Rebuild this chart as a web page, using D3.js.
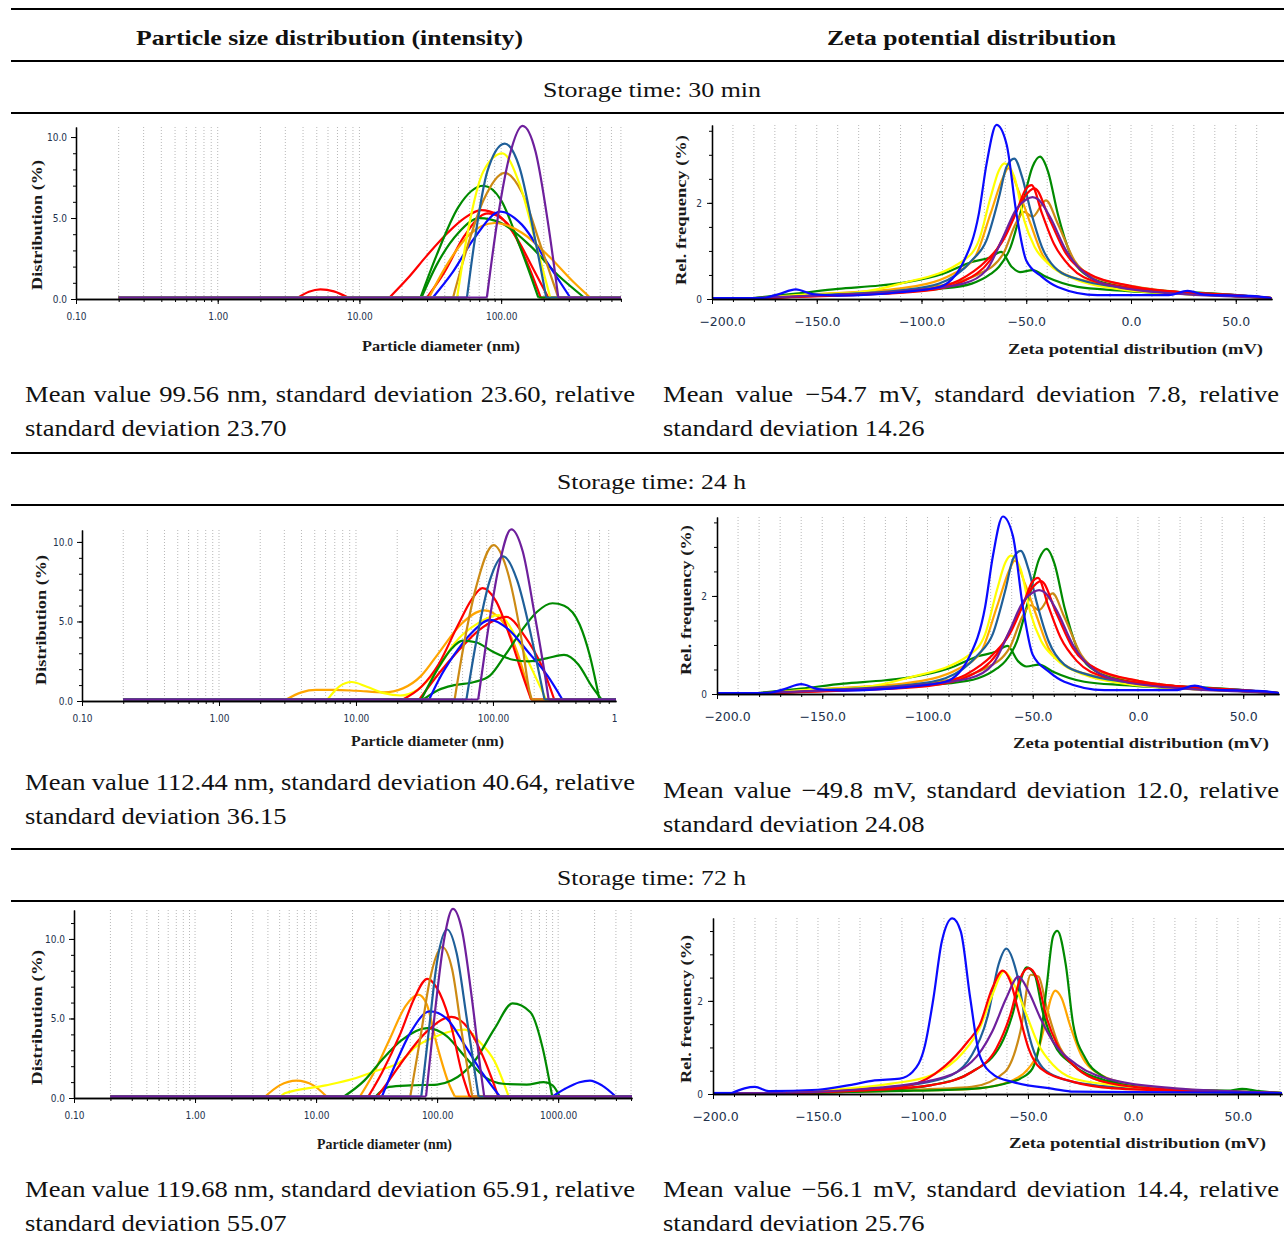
<!DOCTYPE html>
<html>
<head>
<meta charset="utf-8">
<script src="https://cdn.jsdelivr.net/npm/d3@7"></script>
<style>
  body { margin: 0; background: #fff; }
  svg { display: block; }
</style>
</head>
<body>
<svg id="fig" width="1284" height="1242"></svg>
<script>
// line colours used by the instrument software
const colors = {
  red: "#ff0000", green: "#008a00", blue: "#0a0aff", steel: "#1f5f99",
  yellow: "#ffff00", orange: "#ffa500", gold: "#cc8a14", purple: "#6e1f9c"
};

// axis ticks
const sizeMajorVals = [0.1, 1, 10, 100, 1000];
const sizeMajorLabels = ["0.10", "1.00", "10.00", "100.00", "1000.00"];
const sizeYMajor = [0, 5, 10];
const sizeYLabels = ["0.0", "5.0", "10.0"];
const zetaMajorVals = [-200, -150, -100, -50, 0, 50];
const zetaMajorLabels = ["\u2212200.0", "\u2212150.0", "\u2212100.0", "\u221250.0", "0.0", "50.0"];
const zetaYMajor = [0, 2];
const zetaYLabels = ["0", "2"];

// --- particle size, 30 min  [diameter nm, distribution %]
const s30Red1 = [[0.2,0],[3.7,0],[4.4,0.35],[5.3,0.5],[6.6,0.38],[8.3,0],[16.3,0],[22,1.2],[30,2.6],[42,4.0],[55,4.9],[72,5.4],[95,5.1],[130,3.6],[170,1.7],[215,0],[701,0]];
const s30Red2 = [[0.2,0],[30,0],[40,1.6],[55,3.8],[80,5.2],[110,4.6],[150,2.3],[190,0],[701,0]];
const s30Green1 = [[0.2,0],[27,0],[35,2.6],[50,5.6],[75,6.9],[100,6.0],[135,3.2],[170,0.8],[183,0],[701,0]];
const s30Green2 = [[0.2,0],[27.4,0],[35,2.0],[50,4.0],[70,4.9],[100,4.6],[160,3.2],[250,1.4],[385,0],[701,0]];
const s30Orange = [[0.2,0],[31,0],[40,1.8],[60,3.9],[90,4.6],[140,4.0],[220,2.5],[320,1.0],[424,0],[701,0]];
const s30Blue = [[0.2,0],[33,0],[45,1.5],[65,3.7],[99,5.3],[140,4.5],[210,2.2],[307,0],[701,0]];
const s30Gold = [[0.2,0],[45.8,0],[55,2.5],[75,6.0],[106,7.7],[140,6.5],[190,3.2],[253,0],[701,0]];
const s30Yellow = [[0.2,0],[48.9,0],[58,4.0],[75,7.8],[102,8.9],[135,7.0],[180,3.0],[222,0],[701,0]];
const s30Steel = [[0.2,0],[57.4,0],[65,3.5],[80,7.8],[106,9.5],[135,8.0],[170,4.0],[208,0],[701,0]];
const s30Purple = [[0.2,0],[79.3,0],[95,5.0],[115,8.8],[141.6,10.6],[175,9.0],[215,4.5],[253,0],[701,0]];

// --- particle size, 24 h
const s24Orange = [[0.2,0],[3.1,0],[4,0.45],[5.1,0.6],[7,0.6],[10,0.55],[16,0.45],[22,0.7],[30,1.5],[40,2.9],[58,4.7],[86,5.6],[115,5.0],[150,3.0],[190,0],[791,0]];
const s24Yellow = [[0.2,0],[6.2,0],[7.5,0.8],[9.3,1.1],[12,0.8],[16,0.4],[21,0.25],[28,0.6],[40,2.0],[52,3.5],[78,4.8],[110,5.3],[150,3.8],[195,1.8],[244,0],[791,0]];
const s24Red1 = [[0.2,0],[22,0],[30,0.8],[40,2.2],[55,4.6],[70,6.3],[84,7.0],[105,6.2],[135,3.8],[165,1.5],[190,0],[791,0]];
const s24Red2 = [[0.2,0],[29,0],[40,1.6],[55,3.0],[80,4.4],[125,5.2],[170,4.0],[230,2.0],[280,0],[791,0]];
const s24Green1 = [[0.2,0],[31,0],[40,0.6],[52,0.9],[73,1.1],[95,1.5],[123,2.8],[161,4.3],[209,5.5],[272,6.05],[331,5.9],[430,4.7],[508,2.8],[599,0],[791,0]];
const s24Green2 = [[0.2,0],[30,0],[40,2.0],[50,3.2],[60,3.7],[75,3.6],[100,3.0],[140,2.5],[183,2.4],[250,2.6],[330,2.8],[420,2.2],[520,0.9],[620,0],[791,0]];
const s24Blue = [[0.2,0],[34.2,0],[40,1.2],[52,2.8],[70,4.2],[95,5.0],[130,4.4],[180,3.0],[250,1.5],[321,0],[791,0]];
const s24Gold = [[0.2,0],[52.5,0],[60,3.0],[75,7.0],[101,9.7],[125,8.3],[160,4.0],[185,0.5],[192,0],[791,0]];
const s24Steel = [[0.2,0],[64,0],[75,3.5],[95,7.5],[119,9.0],[150,7.5],[190,4.0],[225,1.0],[238,0],[791,0]];
const s24Purple = [[0.2,0],[78,0],[90,3.8],[110,8.3],[136,10.7],[165,9.3],[200,5.5],[240,1.5],[255,0],[791,0]];

// --- particle size, 72 h
const s72Orange = [[0.2,0],[3.8,0],[5,0.7],[6.9,1.0],[9.5,0.7],[12.2,0],[23,0],[30,1.5],[40,3.5],[55,5.7],[70,6.4],[82,5.8],[100,3.2],[125,0.8],[140,0],[4074,0]];
const s72Yellow = [[0.2,0],[5.1,0],[5.5,0.2],[12,0.7],[20,1.1],[31,1.6],[50,2.2],[66,3.1],[100,3.8],[131,4.1],[170,4.2],[220,3.5],[299,2.2],[390,0],[4074,0]];
const s72GreenA = [[0.2,0],[31,0],[40,0.6],[60,0.7],[100,0.75],[131,1.0],[205,2.25],[300,4.3],[420,5.85],[590,5.3],[742,3.1],[893,0],[4074,0]];
const s72GreenB = [[0.2,0],[17,0],[25,1.0],[35,2.3],[50,3.5],[83,4.3],[120,3.8],[170,2.5],[250,1.2],[350,0.8],[550,0.75],[760,0.9],[900,0.7],[1030,0],[4074,0]];
const s72Red1 = [[0.2,0],[27,0],[35,1.5],[50,4.0],[65,6.2],[83,7.4],[100,6.8],[130,4.5],[160,1.5],[185,0],[4074,0]];
const s72Red2 = [[0.2,0],[32,0],[40,1.0],[55,2.5],[80,4.0],[131,5.0],[180,4.3],[240,2.5],[300,0.6],[320,0],[4074,0]];
const s72Blue = [[0.2,0],[35,0],[45,2.0],[60,4.0],[87,5.35],[120,4.9],[170,3.2],[240,1.4],[330,0],[900,0],[1150,0.5],[1500,0.9],[1830,1.0],[2300,0.7],[2985,0],[4074,0]];
const s72Gold = [[0.2,0],[60,0],[72,3.5],[88,7.5],[110,9.4],[133,8.0],[160,4.0],[185,1.0],[195,0],[4074,0]];
const s72Steel = [[0.2,0],[74,0],[85,4.0],[100,8.5],[121,10.5],[145,9.0],[175,5.0],[210,1.0],[220,0],[4074,0]];
const s72Purple = [[0.2,0],[81,0],[95,5.0],[115,10.0],[135,11.8],[160,10.5],[195,6.0],[230,1.5],[245,0],[4074,0]];

// --- zeta potential, 30 min  [mV, rel. frequency %]
const z30Blue = [[-200,0],[-175,0],[-168,0.08],[-160,0.18],[-152,0.08],[-140,0.05],[-110,0.12],[-91.5,0.23],[-80,0.75],[-72.6,1.76],[-68.9,2.8],[-64.2,3.6],[-59.4,3.2],[-54.7,1.76],[-50,0.78],[-42.5,0.44],[-35,0.23],[-16,0.06],[18,0.06],[27,0.15],[35,0.07],[59,0.04],[67,0]];
const z30Green1 = [[-200,0],[-180,0],[-150,0.06],[-120,0.12],[-91.5,0.19],[-76,0.3],[-67,0.5],[-63,0.65],[-57.5,1.06],[-52,1.9],[-47,2.73],[-43.4,2.94],[-39.6,2.63],[-35,1.76],[-29,0.92],[-20,0.44],[-6.6,0.26],[12,0.16],[40.5,0.09],[59,0.03],[67,0]];
const z30Green2 = [[-200,0],[-180,0],[-160,0.09],[-140,0.19],[-120,0.26],[-107,0.33],[-90,0.5],[-76,0.75],[-67,0.85],[-62,0.96],[-57,0.65],[-53,0.54],[-47,0.58],[-40.6,0.44],[-25.5,0.23],[-6.6,0.16],[21.7,0.09],[50,0.04],[67,0]];
const z30Steel = [[-200,0],[-170,0],[-149,0.06],[-110,0.16],[-91.5,0.3],[-76,0.78],[-69,1.2],[-63,2.1],[-59.4,2.73],[-55.7,2.9],[-52,2.52],[-48,1.83],[-42.5,1.06],[-35,0.58],[-23.6,0.37],[-6.6,0.23],[21.7,0.12],[50,0.06],[67,0]];
const z30Yellow = [[-200,0],[-175,0],[-160,0.06],[-130,0.12],[-110,0.3],[-80,0.78],[-72.6,1.2],[-67,2.1],[-63,2.66],[-60.4,2.8],[-55.7,2.52],[-51,1.62],[-46,1.06],[-39.6,0.72],[-25.5,0.37],[-6.6,0.19],[21.7,0.09],[50,0.04],[67,0]];
const z30Orange = [[-200,0],[-175,0],[-150,0.08],[-110,0.2],[-85,0.5],[-74.5,0.85],[-67,1.76],[-61,2.52],[-58.5,2.7],[-53.8,2.24],[-48,1.55],[-42.5,0.92],[-35,0.58],[-16,0.3],[12,0.12],[45,0.05],[67,0]];
const z30Gold = [[-200,0],[-175,0],[-140,0.08],[-100,0.2],[-72.6,0.5],[-61,0.92],[-55,1.55],[-51,1.79],[-47,1.69],[-40.6,2.03],[-35,1.55],[-27,0.78],[-18,0.44],[2.8,0.23],[31,0.09],[55,0.04],[67,0]];
const z30Red1 = [[-200,0],[-175,0],[-140,0.06],[-100,0.16],[-82,0.37],[-69,0.78],[-61,1.2],[-55,1.76],[-50,2.28],[-47.5,2.35],[-42.5,1.76],[-36.8,1.13],[-29,0.65],[-16,0.33],[12,0.16],[50,0.06],[67,0]];
const z30Red2 = [[-200,0],[-175,0],[-140,0.05],[-100,0.14],[-80,0.35],[-67,0.8],[-58,1.5],[-51,2.1],[-46,2.28],[-38.7,1.62],[-31,0.92],[-20,0.5],[0,0.25],[30,0.1],[67,0]];
const z30Purple = [[-200,0],[-180,0],[-150,0.05],[-110,0.14],[-80,0.3],[-69,0.58],[-61,1.27],[-55,1.83],[-50,2.05],[-47,2.1],[-44.3,2.05],[-38.7,1.69],[-31,0.99],[-21.7,0.5],[-6.6,0.23],[21.7,0.09],[50,0.03],[67,0]];

// --- zeta potential, 72 h
const z72Blue = [[-200,0],[-191,0],[-185,0.1],[-180,0.13],[-173.5,0.04],[-150,0.07],[-135,0.17],[-123,0.27],[-111,0.31],[-105,0.45],[-99,1.03],[-95,2.04],[-91,3.26],[-86,3.75],[-82,3.47],[-77.5,2.04],[-73,0.81],[-66,0.38],[-57.4,0.24],[-38,0.09],[-28,0.03],[0,0.02],[71,0]];
const z72Steel = [[-200,0],[-160,0],[-135,0.06],[-106,0.17],[-86.5,0.38],[-76.8,0.81],[-69,1.68],[-64,2.76],[-60.3,3.1],[-55.5,2.6],[-50.7,1.46],[-45.8,0.74],[-38,0.38],[-18.8,0.17],[20,0.06],[50,0.02],[71,0]];
const z72Red1 = [[-200,0],[-170,0],[-130,0.05],[-96,0.17],[-76.8,0.45],[-65,0.96],[-58.4,1.68],[-53.6,2.47],[-49.7,2.68],[-45.8,2.47],[-41,1.6],[-36,1.03],[-28.4,0.6],[-18.8,0.31],[0.6,0.13],[30,0.05],[71,0]];
const z72Red2 = [[-200,0],[-165,0],[-130,0.07],[-106,0.17],[-90,0.56],[-78.7,1.1],[-73,1.46],[-67,2.25],[-62,2.63],[-58.4,2.4],[-54.5,1.75],[-49.7,0.96],[-44,0.53],[-28.4,0.24],[-9,0.1],[30,0.04],[71,0]];
const z72GreenA = [[-200,0],[-160,0],[-115,0.04],[-76.8,0.09],[-61,0.2],[-53.6,0.31],[-47.8,0.53],[-44,1.17],[-41,2.32],[-38,3.37],[-36,3.48],[-32,2.76],[-28.4,1.46],[-22.6,0.74],[-15,0.38],[0.6,0.13],[20,0.06],[45,0.05],[52,0.09],[60,0.04],[71,0]];
const z72GreenB = [[-200,0],[-160,0],[-120,0.06],[-96,0.17],[-76.8,0.45],[-63,1.03],[-57.4,1.68],[-52.6,2.54],[-50.7,2.7],[-46.8,2.54],[-43,1.75],[-38,1.1],[-28.4,0.6],[-13,0.27],[10,0.1],[40,0.04],[71,0]];
const z72Purple = [[-200,0],[-165,0],[-130,0.08],[-96,0.27],[-76.8,0.67],[-67,1.32],[-60.3,2.04],[-54.5,2.5],[-49.7,2.18],[-44,1.6],[-38,1.1],[-26.5,0.6],[-9,0.27],[20,0.1],[45,0.04],[71,0]];
const z72Yellow = [[-200,0],[-170,0],[-140,0.08],[-115,0.2],[-96,0.38],[-80.7,0.88],[-73,1.39],[-67,2.1],[-61.3,2.61],[-56.5,2.32],[-50.7,1.68],[-44.9,1.03],[-38,0.6],[-28.4,0.31],[-9,0.17],[20,0.07],[50,0.02],[71,0]];
const z72Orange = [[-200,0],[-160,0],[-110,0.05],[-76.8,0.09],[-57.4,0.27],[-49.7,0.53],[-45.8,0.81],[-42,1.46],[-39,2.04],[-37,2.2],[-34,2.04],[-30,1.46],[-24.6,0.81],[-15,0.38],[0.6,0.17],[20,0.09],[45,0.04],[71,0]];
const z72Gold = [[-200,0],[-160,0],[-110,0.06],[-76.8,0.13],[-61,0.45],[-53.6,1.32],[-48.7,2.54],[-45,2.5],[-41,1.82],[-36,1.1],[-28.4,0.6],[-18.8,0.31],[0.6,0.13],[30,0.05],[71,0]];

// series lists, drawn in order (purple on top)
const size30 = [["red", s30Red1], ["red", s30Red2], ["green", s30Green1], ["green", s30Green2], ["orange", s30Orange],
  ["blue", s30Blue], ["gold", s30Gold], ["yellow", s30Yellow], ["steel", s30Steel], ["purple", s30Purple]];
const size24 = [["orange", s24Orange], ["yellow", s24Yellow], ["red", s24Red1], ["red", s24Red2], ["green", s24Green1],
  ["green", s24Green2], ["blue", s24Blue], ["gold", s24Gold], ["steel", s24Steel], ["purple", s24Purple]];
const size72 = [["orange", s72Orange], ["yellow", s72Yellow], ["green", s72GreenA], ["green", s72GreenB], ["red", s72Red1],
  ["red", s72Red2], ["blue", s72Blue], ["gold", s72Gold], ["steel", s72Steel], ["purple", s72Purple]];
const zeta30 = [["green", z30Green2], ["green", z30Green1], ["gold", z30Gold], ["orange", z30Orange], ["yellow", z30Yellow],
  ["steel", z30Steel], ["red", z30Red1], ["red", z30Red2], ["purple", z30Purple], ["blue", z30Blue]];
// the 24 h zeta panel shows the same traces as the 30 min one
const zeta24 = zeta30;
const zeta72 = [["gold", z72Gold], ["orange", z72Orange], ["green", z72GreenB], ["green", z72GreenA], ["steel", z72Steel],
  ["yellow", z72Yellow], ["red", z72Red2], ["red", z72Red1], ["purple", z72Purple], ["blue", z72Blue]];

const captions = [
  {left: "Mean value 99.56 nm, standard deviation 23.60, relative", left2: "standard deviation 23.70", ly: 402,
   right: "Mean value \u221254.7 mV, standard deviation 7.8, relative", right2: "standard deviation 14.26", ry: 402},
  {left: "Mean value 112.44 nm, standard deviation 40.64, relative", left2: "standard deviation 36.15", ly: 790,
   right: "Mean value \u221249.8 mV, standard deviation 12.0, relative", right2: "standard deviation 24.08", ry: 798},
  {left: "Mean value 119.68 nm, standard deviation 65.91, relative", left2: "standard deviation 55.07", ly: 1197,
   right: "Mean value \u221256.1 mV, standard deviation 14.4, relative", right2: "standard deviation 25.76", ry: 1197}
];

const svg = d3.select("#fig");
const serif = '"Liberation Serif", "Times New Roman", serif';
const condensed = '"DejaVu Sans Condensed", "Liberation Sans Narrow", "DejaVu Sans", sans-serif';
const sans = '"DejaVu Sans", "Liberation Sans", sans-serif';

// table rules
[9, 61, 113, 453, 505, 849, 901].forEach(y => {
  svg.append("line").attr("x1", 11).attr("x2", 1284).attr("y1", y).attr("y2", y)
    .attr("stroke", "#000").attr("stroke-width", 1.8);
});

function fitText(str, x0, x1, y, size, weight) {
  return svg.append("text").attr("x", x0).attr("y", y)
    .attr("font-family", serif).attr("font-size", size).attr("font-weight", weight || "normal")
    .attr("textLength", x1 - x0).attr("lengthAdjust", "spacingAndGlyphs")
    .attr("fill", "#111").text(str);
}

fitText("Particle size distribution (intensity)", 136, 523, 45, 22, "bold");
fitText("Zeta potential distribution", 827, 1116, 45, 22, "bold");
fitText("Storage time: 30 min", 543, 761, 97, 22);
fitText("Storage time: 24 h", 557, 746, 489, 22);
fitText("Storage time: 72 h", 557, 746, 885, 22);

// glyph stretch calibrated on a second caption line (262 px in the reference)
const probe = svg.append("text").attr("font-family", serif).attr("font-size", 23).text("standard deviation 23.70");
const stretch = 262 / probe.node().getComputedTextLength();
probe.remove();

function captionLine(str, x0, y, x1) {
  const words = str.split(" ");
  const g = svg.append("g").attr("font-family", serif).attr("font-size", 23).attr("fill", "#111");
  const els = words.map(w => g.append("text").attr("y", y).text(w));
  const widths = els.map(e => e.node().getComputedTextLength() * stretch);
  const gap = x1 ? (x1 - x0 - d3.sum(widths)) / (words.length - 1) : 5.6 * stretch;
  let x = x0;
  els.forEach((e, i) => {
    e.attr("x", x).attr("textLength", widths[i]).attr("lengthAdjust", "spacingAndGlyphs");
    x += widths[i] + gap;
  });
}

captions.forEach(c => {
  captionLine(c.left, 25, c.ly, 635);
  captionLine(c.left2, 25, c.ly + 34);
  captionLine(c.right, 663, c.ry, 1279);
  captionLine(c.right2, 663, c.ry + 34);
});

const charts = [
  {kind: "size", left: 76, right: 621, y0: 299, top: 127, xMax: 701, yMax: 10.62, series: size30,
   xTitle: [362, 520, 351], yTitle: [42, 160, 290]},
  {kind: "zeta", left: 712, right: 1272, y0: 299, top: 125, xMax: 67.3, yMax: 3.62, series: zeta30,
   xTitle: [1008, 1263, 354], yTitle: [686, 135, 285], firstDx: 10},
  {kind: "size", left: 82, right: 616, y0: 701, top: 530, xMax: 791, yMax: 10.75, series: size24,
   xTitle: [351, 504, 746], yTitle: [46, 555, 685]},
  {kind: "zeta", left: 717, right: 1279, y0: 694, top: 517, xMax: 67, yMax: 3.61, series: zeta24,
   xTitle: [1013, 1269, 748], yTitle: [691, 525, 675], firstDx: 10},
  {kind: "size", left: 74, right: 632, y0: 1098, top: 910, xMax: 4074, yMax: 11.82, series: size72,
   xTitle: [317, 452, 1149], yTitle: [42, 950, 1085]},
  {kind: "zeta", left: 713, right: 1282, y0: 1094, top: 918, xMax: 71, yMax: 3.78, series: zeta72,
   xTitle: [1009, 1266, 1148], yTitle: [691, 935, 1083], firstDx: 2}
];

// split a trace at its zero points so truncated peaks keep their steep edges
function pieces(pts) {
  const zi = [];
  pts.forEach((p, i) => { if (p[1] === 0) zi.push(i); });
  const out = [];
  for (let k = 0; k < zi.length - 1; k++) out.push(pts.slice(zi[k], zi[k + 1] + 1));
  return out;
}

function drawChart(cfg, idx) {
  const isSize = cfg.kind === "size";
  const x = isSize
    ? d3.scaleLog().domain([0.1, cfg.xMax]).range([cfg.left, cfg.right])
    : d3.scaleLinear().domain([-200, cfg.xMax]).range([cfg.left, cfg.right]);
  const y = d3.scaleLinear().domain([0, cfg.yMax]).range([cfg.y0, cfg.top]);
  const g = svg.append("g");

  const clipId = "clip" + idx;
  svg.append("clipPath").attr("id", clipId).append("rect")
    .attr("x", cfg.left).attr("y", cfg.top - 4).attr("width", cfg.right - cfg.left).attr("height", cfg.y0 - cfg.top + 6);
  const labClip = "lab" + idx;
  svg.append("clipPath").attr("id", labClip).append("rect")
    .attr("x", cfg.left - 60).attr("y", cfg.top - 10).attr("width", cfg.right - cfg.left + 61).attr("height", cfg.y0 - cfg.top + 50);

  const minor = isSize
    ? x.ticks().filter(v => v > 0.1 && v <= cfg.xMax)
    : d3.range(-190, cfg.xMax, 10);

  // dotted vertical grid
  g.append("g").selectAll("line").data(minor).join("line")
    .attr("x1", d => x(d)).attr("x2", d => x(d))
    .attr("y1", cfg.top).attr("y2", cfg.y0)
    .attr("stroke", "#b8b8b8").attr("stroke-width", 1).attr("stroke-dasharray", "1,2");

  // traces
  const line = d3.line().x(d => x(d[0])).y(d => y(d[1])).curve(d3.curveMonotoneX);
  const tg = g.append("g").attr("clip-path", `url(#${clipId})`)
    .append("g").attr("transform", isSize ? "translate(0,-1.5)" : "translate(0,-1)");
  cfg.series.forEach(([col, pts]) => {
    pieces(pts).forEach(seg => {
      tg.append("path").attr("d", line(seg)).attr("fill", "none")
        .attr("stroke", colors[col]).attr("stroke-width", 2.2).attr("stroke-linejoin", "round");
    });
  });

  // x axis
  const axMinor = d3.axisBottom(x).tickValues(isSize ? minor : d3.range(-200, cfg.xMax, 10))
    .tickSize(3).tickSizeOuter(0).tickFormat("");
  g.append("g").attr("transform", `translate(0,${cfg.y0})`).call(axMinor);
  const majVals = isSize ? sizeMajorVals : zetaMajorVals;
  const majLabs = isSize ? sizeMajorLabels : zetaMajorLabels;
  const axMajor = d3.axisBottom(x).tickValues(majVals)
    .tickSize(5).tickSizeOuter(0).tickPadding(isSize ? 9 : 13)
    .tickFormat((d, i) => majLabs[i]);
  const gx = g.append("g").attr("clip-path", `url(#${labClip})`)
    .append("g").attr("transform", `translate(0,${cfg.y0})`).call(axMajor);
  gx.selectAll("text").attr("font-family", isSize ? condensed : sans)
    .attr("font-stretch", isSize ? "condensed" : "normal")
    .attr("font-size", isSize ? 10 : 12.5).attr("fill", "#23324d");
  if (cfg.firstDx) gx.select(".tick text").attr("dx", cfg.firstDx);

  // y axis
  const yMinorVals = isSize ? d3.range(0, cfg.yMax, 1) : d3.range(0, cfg.yMax, 0.5);
  g.append("g").attr("transform", `translate(${cfg.left},0)`)
    .call(d3.axisLeft(y).tickValues(yMinorVals).tickSize(3).tickSizeOuter(0).tickFormat(""));
  const yMaj = isSize ? sizeYMajor : zetaYMajor;
  const yLabs = isSize ? sizeYLabels : zetaYLabels;
  const gy = g.append("g").attr("transform", `translate(${cfg.left},0)`)
    .call(d3.axisLeft(y).tickValues(yMaj).tickSize(5).tickSizeOuter(0).tickPadding(isSize ? 4 : 5)
      .tickFormat((d, i) => yLabs[i]));
  gy.selectAll("text").attr("font-family", condensed).attr("font-stretch", "condensed")
    .attr("font-size", 10).attr("fill", "#23324d");

  g.selectAll(".domain").attr("stroke", "#000").attr("stroke-width", 1.3);
  g.selectAll(".tick line").attr("stroke", "#000");

  // titles
  const [tx0, tx1, ty] = cfg.xTitle;
  g.append("text").attr("x", tx0).attr("y", ty)
    .attr("font-family", serif).attr("font-weight", "bold").attr("font-size", 15.5)
    .attr("textLength", tx1 - tx0).attr("lengthAdjust", "spacingAndGlyphs")
    .attr("fill", "#1a1a1a").text(isSize ? "Particle diameter (nm)" : "Zeta potential distribution (mV)");
  const [yx, yy0, yy1] = cfg.yTitle;
  g.append("text").attr("transform", `translate(${yx},${yy1}) rotate(-90)`)
    .attr("x", 0).attr("y", 0)
    .attr("font-family", serif).attr("font-weight", "bold").attr("font-size", 15.5)
    .attr("textLength", yy1 - yy0).attr("lengthAdjust", "spacingAndGlyphs")
    .attr("fill", "#1a1a1a").text(isSize ? "Distribution (%)" : "Rel. frequency (%)");
}

charts.forEach(drawChart);
</script>
</body>
</html>
